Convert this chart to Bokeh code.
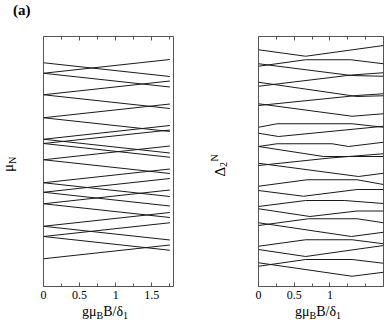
from bokeh.plotting import figure
from bokeh.layouts import row, column
from bokeh.models import Range1d, FixedTicker, LinearAxis, Div
from bokeh.embed import file_html
from bokeh.resources import INLINE

FONT = "Liberation Serif"
LINE = "#1a1a1a"

# ---------------- data ----------------
# left panel: mu_N levels, straight lines from B=0 to B=1.75
b_start = 0.0
b_end = 1.75
mu_start = [8.95, 8.53, 8.53, 7.67, 7.67, 6.75, 6.75, 5.89, 5.89, 5.72, 5.72, 5.07,
            5.07, 4.15, 4.15, 3.77, 3.77, 3.31, 3.31, 2.41, 2.41, 2.00, 2.00, 1.11]
mu_end = [8.40, 9.08, 7.98, 8.22, 7.12, 7.30, 6.20, 6.44, 5.34, 6.26, 5.17, 5.62,
          4.52, 4.70, 3.60, 4.32, 3.22, 3.86, 2.76, 2.96, 1.86, 2.55, 1.45, 1.66]

# right panel: Delta_2^N curves (piecewise linear)
delta_b = [
    [0, 0.66, 1.75],
    [0, 0.66, 1.29, 1.75],
    [0, 1.30, 1.75],
    [0, 1.30, 1.75],
    [0, 1.38, 1.75],
    [0, 1.38, 1.75],
    [0, 1.31, 1.75],
    [0, 0.26, 1.31, 1.75],
    [0, 0.28, 1.75],
    [0, 0.26, 1.03, 1.26, 1.75],
    [0, 0.91, 1.75],
    [0, 1.00, 1.75],
    [0, 1.40, 1.75],
    [0, 0.68, 1.38, 1.75],
    [0, 0.63, 1.38, 1.75],
    [0, 0.66, 1.20, 1.75],
    [0, 0.72, 1.38, 1.75],
    [0, 1.30, 1.75],
    [0, 0.70, 1.38, 1.75],
    [0, 0.66, 1.31, 1.75],
    [0, 0.66, 1.75],
    [0, 1.31, 1.75],
    [0, 0.66, 1.31, 1.75],
]
delta_val = [
    [9.47, 9.21, 9.64],
    [8.81, 9.07, 9.07, 8.91],
    [8.91, 8.44, 8.41],
    [8.01, 8.46, 8.55],
    [8.17, 7.60, 7.63],
    [7.24, 7.64, 7.71],
    [7.31, 6.81, 6.91],
    [6.37, 6.51, 6.51, 6.37],
    [6.13, 6.00, 6.41],
    [5.60, 5.71, 5.71, 5.60, 5.77],
    [5.60, 5.20, 5.20],
    [4.84, 5.14, 5.31],
    [4.93, 4.40, 4.53],
    [4.01, 4.27, 4.27, 4.08],
    [3.84, 3.61, 3.88, 3.88],
    [3.20, 3.44, 3.44, 3.32],
    [3.11, 2.80, 3.02, 3.02],
    [2.55, 2.00, 2.17],
    [2.44, 2.71, 2.71, 2.55],
    [1.61, 1.87, 1.87, 1.71],
    [1.48, 1.20, 1.64],
    [0.95, 0.41, 0.57],
    [0.81, 1.08, 1.08, 0.93],
]

left_ticks = [0, 0.5, 1, 1.5]
right_ticks = [0, 0.5, 1]
quarter_ticks = [0.25, 0.75, 1.25, 1.5, 1.75]

FIG_H = 320
LABEL_SHIFT = 10  # compensates the offset of the Div's content box


def style(p, major, minor):
    p.xgrid.visible = False
    p.ygrid.visible = False
    p.yaxis.visible = False
    p.outline_line_color = "#555555"
    p.outline_line_width = 1
    p.background_fill_color = "white"
    p.border_fill_color = "white"
    ax = p.xaxis[0]
    ax.ticker = FixedTicker(ticks=major, minor_ticks=minor)
    ax.axis_line_color = None
    ax.major_tick_in = 4
    ax.major_tick_out = 0
    ax.minor_tick_in = 3
    ax.minor_tick_out = 0
    ax.major_tick_line_color = "#555555"
    ax.minor_tick_line_color = "#555555"
    ax.major_label_text_font = FONT
    ax.major_label_text_font_size = "12px"
    ax.major_label_text_color = "black"
    ax.major_label_standoff = 4
    top = LinearAxis(ticker=FixedTicker(ticks=major, minor_ticks=minor))
    top.axis_line_color = None
    top.major_tick_in = 4
    top.major_tick_out = 0
    top.minor_tick_in = 3
    top.minor_tick_out = 0
    top.major_tick_line_color = "#555555"
    top.minor_tick_line_color = "#555555"
    top.major_label_text_color = None
    top.major_label_standoff = 0
    p.add_layout(top, "above")


# ---------------- left panel ----------------
left = figure(width=208, height=FIG_H, x_range=Range1d(0, 1.8), y_range=Range1d(0, 10),
              output_backend="svg", toolbar_location=None,
              min_border_left=43, min_border_right=35, min_border_top=36,
              min_border_bottom=FIG_H - 286)
style(left, left_ticks, quarter_ticks)
left.segment(x0=[b_start] * len(mu_start), y0=mu_start,
             x1=[b_end] * len(mu_end), y1=mu_end, line_color=LINE, line_width=1)

# ---------------- right panel ----------------
right = figure(width=180, height=FIG_H, x_range=Range1d(0, 1.75), y_range=Range1d(0, 10),
               output_backend="svg", toolbar_location=None,
               min_border_left=50, min_border_right=5, min_border_top=36,
               min_border_bottom=FIG_H - 286)
style(right, right_ticks, quarter_ticks)
right.multi_line(xs=delta_b, ys=delta_val, line_color=LINE, line_width=1)

# ---------------- texts outside the frames (labels with sub/superscripts) ----------------
FS = f"font-family:'{FONT}'"
svg_labels = f"""
<svg width="1" height="1" xmlns="http://www.w3.org/2000/svg"
     style="position:relative; left:0px; top:-{FIG_H + LABEL_SHIFT}px; overflow:visible; display:block">
 <g fill="black">
  <text x="13" y="14" style="{FS}; font-size:15px; font-weight:bold">(a)</text>
  <text x="82" y="315" style="{FS}; font-size:14px">gμ<tspan style="font-size:10px" dy="3">B</tspan><tspan dy="-3">B/δ</tspan><tspan style="font-size:10px" dy="3">1</tspan></text>
  <text x="295" y="315" style="{FS}; font-size:14px">gμ<tspan style="font-size:10px" dy="3">B</tspan><tspan dy="-3">B/δ</tspan><tspan style="font-size:10px" dy="3">1</tspan></text>
  <text transform="translate(13,171) rotate(-90)" style="{FS}; font-size:15px">μ<tspan style="font-size:10px" dy="3">N</tspan></text>
  <text transform="translate(225,175.5) rotate(-90)" style="{FS}; font-size:15px">Δ</text>
  <text transform="translate(227,166) rotate(-90)" style="{FS}; font-size:10px">2</text>
  <text transform="translate(218,160.5) rotate(-90)" style="{FS}; font-size:10px">N</text>
 </g>
</svg>
"""
labels = Div(text=svg_labels, width=388, height=1, margin=0,
             styles={"overflow": "visible"})

layout = column(row(left, right, spacing=0), labels, spacing=0)
open("out.html", "w").write(file_html(layout, INLINE))
